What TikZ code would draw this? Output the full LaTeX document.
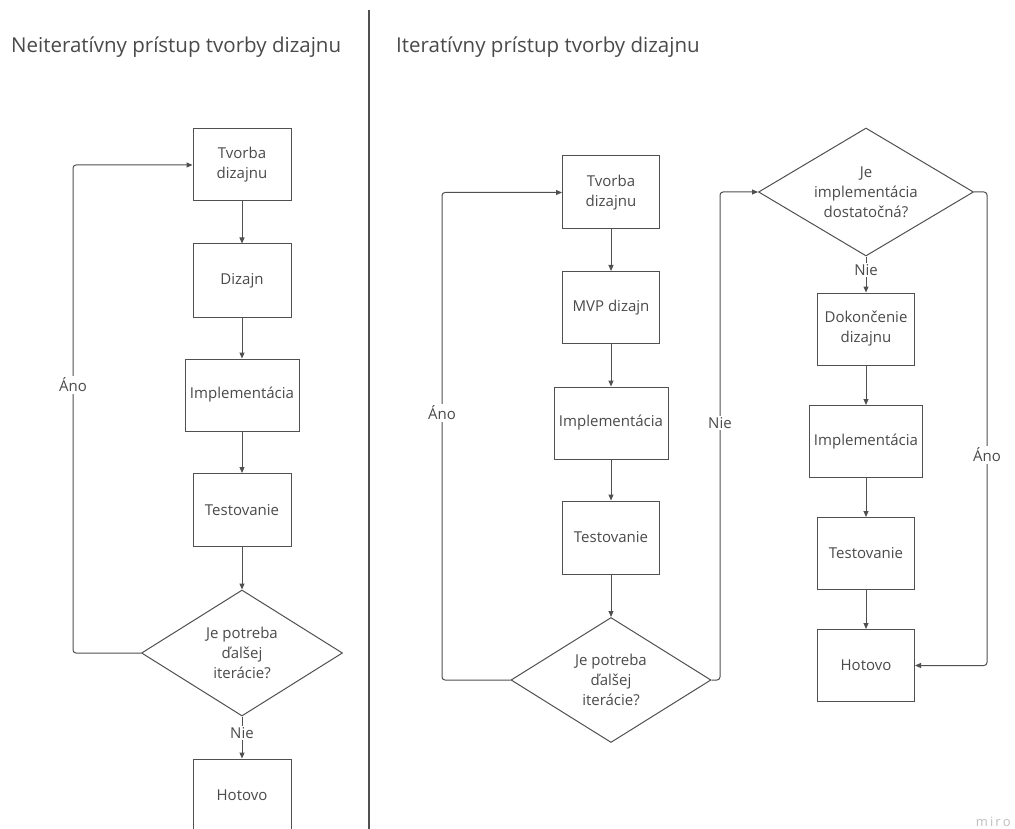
\documentclass[tikz,border=0pt]{standalone}
\usepackage{fontspec}
\setmainfont{Open Sans}
\usetikzlibrary{shapes.geometric,arrows.meta}
\definecolor{ink}{HTML}{4A4A4A}
\definecolor{edge}{HTML}{505050}
\begin{document}
\begin{tikzpicture}[x=1pt,y=-1pt,
  every node/.style={text=ink},
  box/.style={draw=edge,line width=1pt,rectangle,inner sep=2pt,align=center,
    font=\fontsize{15}{20}\selectfont},
  decision/.style={draw=edge,line width=1pt,diamond,inner sep=0pt,align=center,
    font=\fontsize{15}{20}\selectfont},
  arr/.style={draw=edge,line width=1pt,-{Triangle[length=6pt,width=5pt]}},
  loopline/.style={arr,rounded corners=3pt},
  lbl/.style={fill=white,inner sep=1.5pt,font=\fontsize{15}{18}\selectfont},
  heading/.style={anchor=west,inner sep=0pt,font=\fontsize{20.5}{24}\selectfont}]
\useasboundingbox (0,0) rectangle (1015,829);
\fill[white] (0,0) rectangle (1015,829);

% headings and divider
\node[heading] (hl) at (11,47) {Neiteratívny prístup tvorby dizajnu};
\node[heading] (hr) at (396,47) {Iteratívny prístup tvorby dizajnu};
\draw[edge,line width=1.2pt] (369,10) -- (369,829);

% non-iterative flow
\node[box,minimum width=98pt,minimum height=72pt] (t1) at (242,165) {Tvorba\\dizajnu};
\node[box,minimum width=98pt,minimum height=73pt] (d1) at (242,280.5) {Dizajn};
\node[box,minimum width=114pt,minimum height=72pt] (i1) at (242,395) {Implementácia};
\node[box,minimum width=98pt,minimum height=73pt] (te1) at (242,510) {Testovanie};
\node[decision,shape aspect=1.6,minimum width=201pt,minimum height=126pt] (q1) at (242,653) {Je potreba\\ďalšej\\iterácie?};
\node[box,minimum width=98pt,minimum height=72pt] (h1) at (242,795) {Hotovo};

\draw[arr] (t1) -- (d1);
\draw[arr] (d1) -- (i1);
\draw[arr] (i1) -- (te1);
\draw[arr] (te1) -- (q1);
\draw[arr] (q1) -- (h1);
\coordinate (c1) at (73,0);
\draw[loopline] (q1.west) -- (q1.west -| c1) -- (t1.west -| c1) -- (t1.west);
\node[lbl] (a1) at (73,385) {Áno};
\node[lbl] (n1) at (242,733) {Nie};

% iterative flow: first pass
\node[box,minimum width=97pt,minimum height=73pt] (t2) at (611,192.5) {Tvorba\\dizajnu};
\node[box,minimum width=97pt,minimum height=72pt] (m2) at (611,307.5) {MVP dizajn};
\node[box,minimum width=114pt,minimum height=72pt] (i2) at (611,423) {Implementácia};
\node[box,minimum width=97pt,minimum height=73pt] (te2) at (611,537.5) {Testovanie};
\node[decision,shape aspect=1.6,minimum width=200pt,minimum height=125pt] (q2) at (611,680) {Je potreba\\ďalšej\\iterácie?};

\draw[arr] (t2) -- (m2);
\draw[arr] (m2) -- (i2);
\draw[arr] (i2) -- (te2);
\draw[arr] (te2) -- (q2);

% iterative flow: finishing
\node[decision,shape aspect=1.68,minimum width=215pt,minimum height=128pt] (q3) at (866,192) {Je\\implementácia\\dostatočná?};
\node[box,minimum width=97pt,minimum height=72pt] (dk) at (866,329) {Dokončenie\\dizajnu};
\node[box,minimum width=113pt,minimum height=72pt] (i3) at (866,441.5) {Implementácia};
\node[box,minimum width=97pt,minimum height=72pt] (te3) at (866,553.5) {Testovanie};
\node[box,minimum width=97pt,minimum height=72pt] (h3) at (866,665.5) {Hotovo};

\draw[arr] (q3) -- (dk);
\draw[arr] (dk) -- (i3);
\draw[arr] (i3) -- (te3);
\draw[arr] (te3) -- (h3);

\coordinate (c2) at (442,0);
\coordinate (c3) at (720,0);
\coordinate (c4) at (987,0);
\draw[loopline] (q2.west) -- (q2.west -| c2) -- (t2.west -| c2) -- (t2.west);
\draw[loopline] (q2.east) -- (q2.east -| c3) -- (q3.west -| c3) -- (q3.west);
\draw[loopline] (q3.east) -- (q3.east -| c4) -- (h3.east -| c4) -- (h3.east);

\node[lbl] (a2) at (442,413) {Áno};
\node[lbl] (n2) at (720,423) {Nie};
\node[lbl] (n3) at (866,270) {Nie};
\node[lbl] (a3) at (987,455) {Áno};

% watermark
\node[text=black!25,font=\fontsize{13}{15}\selectfont,anchor=east,inner sep=0pt] (wm) at (1011,822) {m\,i\,r\,o};
\end{tikzpicture}
\end{document}
